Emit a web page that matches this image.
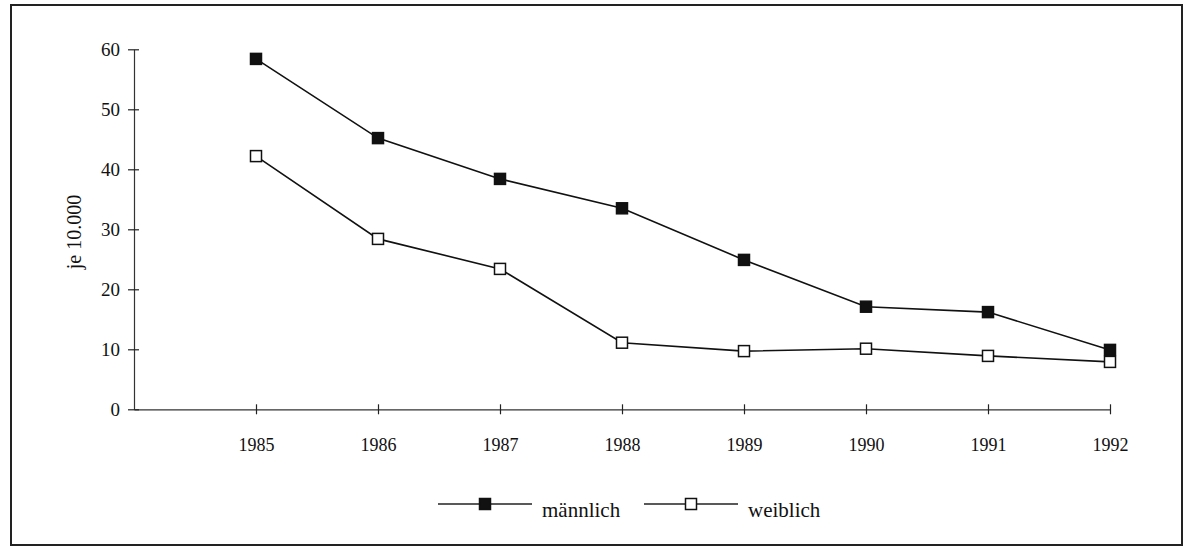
<!DOCTYPE html>
<html>
<head>
<meta charset="utf-8">
<script src="https://cdn.jsdelivr.net/npm/d3@7"></script>
<style>
  body { margin: 0; background: #fff; }
  svg text { font-family: 'Liberation Serif', 'Times New Roman', serif; fill: #111; }
</style>
</head>
<body>
<script>
'use strict';

// data
const years = [1985, 1986, 1987, 1988, 1989, 1990, 1991, 1992];
const maleValues = [58.4, 45.2, 38.4, 33.5, 24.9, 17.1, 16.2, 9.9];
const femaleValues = [42.2, 28.4, 23.4, 11.1, 9.7, 10.1, 8.9, 7.9];
const yTicks = [0, 10, 20, 30, 40, 50, 60];
const seriesNames = ['männlich', 'weiblich'];
const yLabel = 'je 10.000';

(function() {
  let svg = '';

  window.onload = function() {
    svg = d3
      .select('body')
      .append('svg')
      .attr('width', 1185)
      .attr('height', 547);

    // frame around the whole chart
    svg
      .append('rect')
      .attr('x', 11)
      .attr('y', 5)
      .attr('width', 1171)
      .attr('height', 540)
      .attr('fill', 'none')
      .attr('stroke', '#222')
      .attr('stroke-width', 2);

    const scales = drawAxes();
    plotSeries(scales, maleValues, '#111');
    plotSeries(scales, femaleValues, '#fff');
    makeLegend();
  };

  // axes with crossing ticks like the old printout
  function drawAxes() {
    const xScale = d3
      .scaleLinear()
      .domain([1984, 1992])
      .range([134, 1110]);

    const yScale = d3
      .scaleLinear()
      .domain([0, 60])
      .range([409.3, 49.3]);

    const xAxis = d3
      .axisBottom(xScale)
      .tickValues(years)
      .tickFormat(d3.format('d'))
      .tickSizeInner(5)
      .tickSizeOuter(0)
      .tickPadding(24);

    const gx = svg
      .append('g')
      .attr('transform', 'translate(0, ' + yScale(0) + ')')
      .call(xAxis);
    gx.select('.domain').attr('stroke', '#333').attr('stroke-width', 1.2);
    gx.selectAll('.tick line')
      .attr('y1', -5)
      .attr('y2', 5)
      .attr('stroke', '#222')
      .attr('stroke-width', 1.2);
    gx.selectAll('.tick text').style('font-size', '18px').attr('fill', '#111');

    const yAxis = d3
      .axisLeft(yScale)
      .tickValues(yTicks)
      .tickSizeInner(5)
      .tickSizeOuter(0)
      .tickPadding(9);

    const gy = svg
      .append('g')
      .attr('transform', 'translate(134, 0)')
      .call(yAxis);
    gy.select('.domain').attr('stroke', '#333').attr('stroke-width', 1.2);
    gy.selectAll('.tick line')
      .attr('x1', -6)
      .attr('x2', 5)
      .attr('stroke', '#222')
      .attr('stroke-width', 1.2);
    gy.selectAll('.tick text').style('font-size', '19px').attr('fill', '#111');

    // rotated y label
    svg
      .append('text')
      .attr('transform', 'translate(81, 232)rotate(-90)')
      .attr('text-anchor', 'middle')
      .style('font-size', '20px')
      .text(yLabel);

    return { xScale: xScale, yScale: yScale };
  }

  // line plus square markers for one series
  function plotSeries(map, values, fill) {
    const rows = years.map((y, i) => ({ year: y, value: values[i] }));

    const line = d3
      .line()
      .x(d => map.xScale(d.year))
      .y(d => map.yScale(d.value));

    svg
      .append('path')
      .datum(rows)
      .attr('d', line)
      .attr('fill', 'none')
      .attr('stroke', '#111')
      .attr('stroke-width', 1.6);

    svg
      .selectAll(null)
      .data(rows)
      .enter()
      .append('rect')
      .attr('x', d => map.xScale(d.year) - 5.5)
      .attr('y', d => map.yScale(d.value) - 5.5)
      .attr('width', 11)
      .attr('height', 11)
      .attr('fill', fill)
      .attr('stroke', '#111')
      .attr('stroke-width', 1.5);
  }

  // legend at the bottom
  function makeLegend() {
    const items = [
      { name: seriesNames[0], x1: 438, x2: 532, fill: '#111' },
      { name: seriesNames[1], x1: 644, x2: 738, fill: '#fff' }
    ];
    const ly = 504;

    items.forEach(item => {
      const mid = (item.x1 + item.x2) / 2;
      svg
        .append('line')
        .attr('x1', item.x1)
        .attr('x2', item.x2)
        .attr('y1', ly)
        .attr('y2', ly)
        .attr('stroke', '#222')
        .attr('stroke-width', 1.3);
      svg
        .append('rect')
        .attr('x', mid - 5.5)
        .attr('y', ly - 5.5)
        .attr('width', 11)
        .attr('height', 11)
        .attr('fill', item.fill)
        .attr('stroke', '#111')
        .attr('stroke-width', 1.5);
      svg
        .append('text')
        .attr('x', item.x2 + 10)
        .attr('y', ly + 13)
        .style('font-size', '21px')
        .text(item.name);
    });
  }
})();
</script>
</body>
</html>
